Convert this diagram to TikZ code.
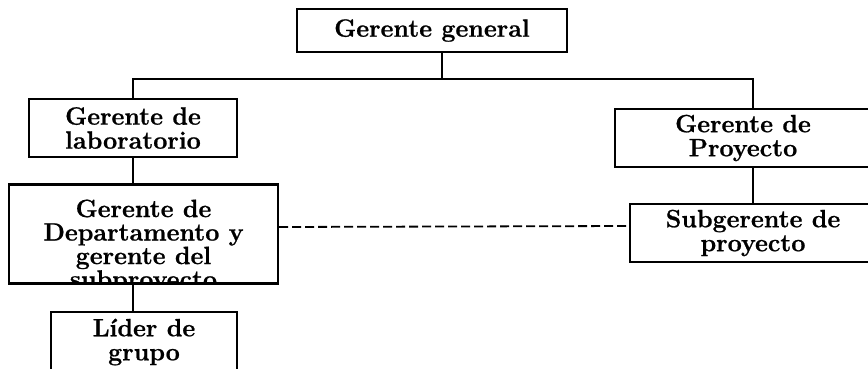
\documentclass[tikz,border=0pt]{standalone}
\usepackage{fontspec}
\setmainfont{Latin Modern Roman}[BoldFeatures={FakeBold=0.8}]
\usepackage{tikz}
\usetikzlibrary{positioning}

\begin{document}
\begin{tikzpicture}[x=1pt, y=-1pt,
  box/.style={rectangle, draw, line width=2.2pt, fill=white, inner sep=0pt, align=center, font=\fontsize{25}{24}\selectfont\bfseries},
  conn/.style={line width=2.2pt},
  dashline/.style={line width=1.8pt, dash pattern=on 9pt off 4pt}
]
\useasboundingbox (0,0) rectangle (868,369);
\clip (0,0) rectangle (868,369);

\node[box, minimum width=270pt, minimum height=43pt] (general) at (432,30.5) {Gerente general};
\node[box, minimum width=208pt, minimum height=58pt] (lab) at (133,128) {Gerente de\\laboratorio};
\node[box, minimum width=256pt, minimum height=58pt] (proy) at (743,138) {Gerente de\\Proyecto};
\node[box, minimum width=269pt, minimum height=99pt,
  path picture={\node[anchor=north, align=center, inner sep=0pt, draw=none, fill=none,
    font=\fontsize{25}{23.5}\selectfont\bfseries] (deptotxt)
    at ([yshift=-11pt]path picture bounding box.north) {Gerente de\\Departamento y\\gerente del\\subproyecto};}] (depto) at (143.5,234) {};
\node[box, minimum width=246pt, minimum height=58pt] (subg) at (753,233) {Subgerente de\\proyecto};
\node[box, minimum width=186pt, minimum height=60pt] (lider) at (144,342) {Líder de\\grupo};

\coordinate (bus) at (442,79);

\draw[conn] (general.south -| bus) -- (bus);
\draw[conn] (lab.north) |- (bus) -| (proy.north -| subg.north);
\draw[conn] (lab.south) -- (lab.south |- depto.north);
\draw[conn] (lab.south |- depto.south) -- (lab.south |- lider.north);
\draw[conn] (proy.south -| subg.north) -- (subg.north);
\draw[dashline] ([yshift=7pt]depto.east) -- ([yshift=7pt]subg.west);

\end{tikzpicture}
\end{document}
